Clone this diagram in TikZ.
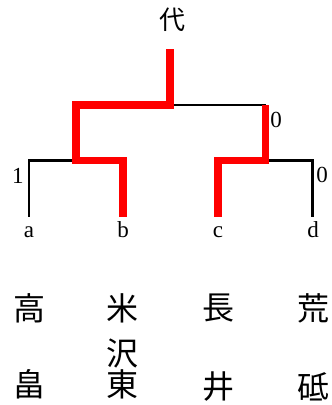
\documentclass[tikz,border=0pt]{standalone}
\usepackage{fontspec}
\setmainfont{Liberation Serif}
\newfontfamily\jp{Noto Sans CJK JP}
\begin{document}
\begin{tikzpicture}[x=1pt,y=-1pt,
  blk/.style={draw=black,line width=2.7pt},
  redp/.style={draw=red,line width=7.5pt,line join=miter},
  leaf/.style={inner sep=0pt,anchor=base,font=\fontsize{23}{26}\selectfont},
  num/.style={inner sep=0pt,font=\fontsize{23}{26}\selectfont},
  kanji/.style={inner sep=0pt,font=\jp\fontsize{32}{34}\selectfont},
  topk/.style={inner sep=0pt,font=\jp\fontsize{26}{28}\selectfont}]
\useasboundingbox (0,0) rectangle (332,405);
% junction coordinates
\coordinate (top) at (170,49);
\coordinate (m) at (170,105);
\coordinate (L) at (76,105);
\coordinate (Lm) at (76,160.5);
\coordinate (R) at (265.5,105);
\coordinate (Rm) at (265.5,160.5);
\coordinate (ea) at (29,217);
\coordinate (eb) at (123,217);
\coordinate (ec) at (218,217);
\coordinate (ed) at (312.5,217);
% labels
\node[topk] (dai) at (172,20) {代};
\node[leaf] (a) at (29,237) {a};
\node[leaf] (b) at (123,237) {b};
\node[leaf] (c) at (218,237) {c};
\node[leaf] (d) at (313,237) {d};
\node[num] (n1) at (18,176) {1};
\node[num] (n2) at (276,120) {0};
\node[num] (n3) at (322,175) {0};
% black branches
\draw[blk] (m) -- (R);
\draw[blk] (Lm) -| (ea);
\draw[blk] (Rm) -| (ed);
% red branches
\draw[redp] (top) -- (m) -| (Lm) -| (eb);
\draw[redp] (R) -- (Rm) -| (ec);
% kanji
\node[kanji] (k1) at (29,308) {高};
\node[kanji] (k2) at (29,384) {畠};
\node[kanji] (k3) at (122.5,308) {米};
\node[kanji] (k4) at (122.5,354) {沢};
\node[kanji] (k5) at (122.5,384) {東};
\node[kanji] (k6) at (218,308) {長};
\node[kanji] (k7) at (218,387) {井};
\node[kanji] (k8) at (313,308) {荒};
\node[kanji] (k9) at (313,387) {砥};
\end{tikzpicture}
\end{document}
